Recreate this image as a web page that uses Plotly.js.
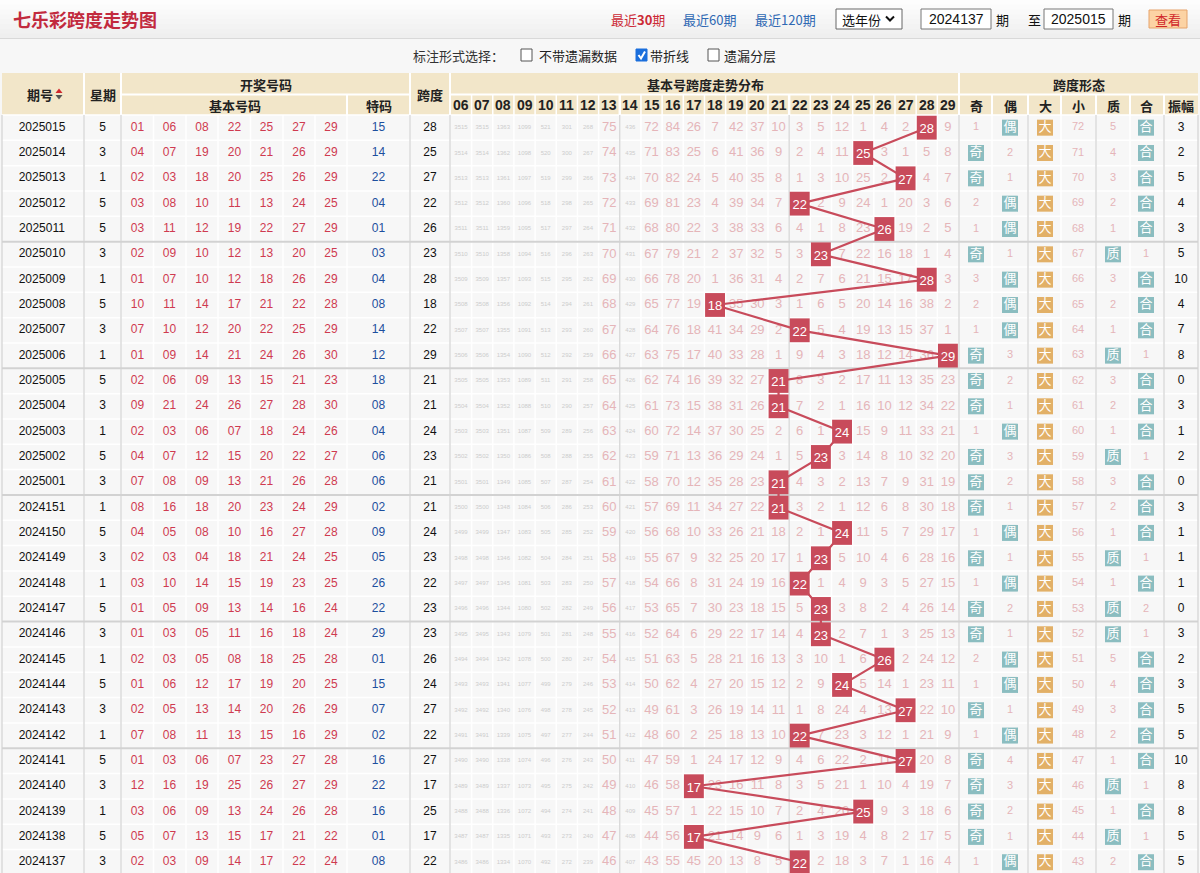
<!DOCTYPE html>
<html><head><meta charset="utf-8">
<script src="https://cdn.plot.ly/plotly-3.0.1.min.js"></script>
<style>html,body{margin:0;padding:0;background:#f7f7f7;overflow:hidden}#chart{width:1200px;height:873px}</style>
</head><body><div id="chart"></div>
<script>
// ---------------- DATA ----------------
const periods = ['2025015','2025014','2025013','2025012','2025011','2025010','2025009','2025008','2025007','2025006','2025005','2025004','2025003','2025002','2025001','2024151','2024150','2024149','2024148','2024147','2024146','2024145','2024144','2024143','2024142','2024141','2024140','2024139','2024138','2024137'];
const weekdays = ['5','3','1','5','5','3','1','5','3','1','5','3','1','5','3','1','5','3','1','5','3','1','5','3','1','5','3','1','5','3'];
const baseNumbers = [
 ['01','06','08','22','25','27','29'],['04','07','19','20','21','26','29'],['02','03','18','20','25','26','29'],['03','08','10','11','13','24','25'],['03','11','12','19','22','27','29'],
 ['02','09','10','12','13','20','25'],['01','07','10','12','18','26','29'],['10','11','14','17','21','22','28'],['07','10','12','20','22','25','29'],['01','09','14','21','24','26','30'],
 ['02','06','09','13','15','21','23'],['09','21','24','26','27','28','30'],['02','03','06','07','18','24','26'],['04','07','12','15','20','22','27'],['07','08','09','13','21','26','28'],
 ['08','16','18','20','23','24','29'],['04','05','08','10','16','27','28'],['02','03','04','18','21','24','25'],['03','10','14','15','19','23','25'],['01','05','09','13','14','16','24'],
 ['01','03','05','11','16','18','24'],['02','03','05','08','18','25','28'],['01','06','12','17','19','20','25'],['02','05','13','14','20','26','29'],['07','08','11','13','15','16','29'],
 ['01','03','06','07','23','27','28'],['12','16','19','25','26','27','29'],['03','06','09','13','24','26','28'],['05','07','13','15','17','21','22'],['02','03','09','14','17','22','24']
];
const specialNumbers = ['15','14','22','04','01','03','04','08','14','12','18','08','04','06','06','02','09','05','26','22','29','01','15','07','02','16','22','16','01','08'];
const spans = [28,25,27,22,26,23,28,18,22,29,21,21,24,23,21,21,24,23,22,23,23,26,24,27,22,27,17,25,17,22];
const spanColumns = ['06','07','08','09','10','11','12','13','14','15','16','17','18','19','20','21','22','23','24','25','26','27','28','29'];
// omission per row for span columns 06..29 (null = hit)
const omission = [
 [3515,3515,1363,1099,521,301,268,75,436,72,84,26,7,42,37,10,3,5,12,1,4,2,null,9],
 [3514,3514,1362,1098,520,300,267,74,435,71,83,25,6,41,36,9,2,4,11,null,3,1,5,8],
 [3513,3513,1361,1097,519,299,266,73,434,70,82,24,5,40,35,8,1,3,10,25,2,null,4,7],
 [3512,3512,1360,1096,518,298,265,72,433,69,81,23,4,39,34,7,null,2,9,24,1,20,3,6],
 [3511,3511,1359,1095,517,297,264,71,432,68,80,22,3,38,33,6,4,1,8,23,null,19,2,5],
 [3510,3510,1358,1094,516,296,263,70,431,67,79,21,2,37,32,5,3,null,7,22,16,18,1,4],
 [3509,3509,1357,1093,515,295,262,69,430,66,78,20,1,36,31,4,2,7,6,21,15,17,null,3],
 [3508,3508,1356,1092,514,294,261,68,429,65,77,19,null,35,30,3,1,6,5,20,14,16,38,2],
 [3507,3507,1355,1091,513,293,260,67,428,64,76,18,41,34,29,2,null,5,4,19,13,15,37,1],
 [3506,3506,1354,1090,512,292,259,66,427,63,75,17,40,33,28,1,9,4,3,18,12,14,36,null],
 [3505,3505,1353,1089,511,291,258,65,426,62,74,16,39,32,27,null,8,3,2,17,11,13,35,23],
 [3504,3504,1352,1088,510,290,257,64,425,61,73,15,38,31,26,null,7,2,1,16,10,12,34,22],
 [3503,3503,1351,1087,509,289,256,63,424,60,72,14,37,30,25,2,6,1,null,15,9,11,33,21],
 [3502,3502,1350,1086,508,288,255,62,423,59,71,13,36,29,24,1,5,null,3,14,8,10,32,20],
 [3501,3501,1349,1085,507,287,254,61,422,58,70,12,35,28,23,null,4,3,2,13,7,9,31,19],
 [3500,3500,1348,1084,506,286,253,60,421,57,69,11,34,27,22,null,3,2,1,12,6,8,30,18],
 [3499,3499,1347,1083,505,285,252,59,420,56,68,10,33,26,21,18,2,1,null,11,5,7,29,17],
 [3498,3498,1346,1082,504,284,251,58,419,55,67,9,32,25,20,17,1,null,5,10,4,6,28,16],
 [3497,3497,1345,1081,503,283,250,57,418,54,66,8,31,24,19,16,null,1,4,9,3,5,27,15],
 [3496,3496,1344,1080,502,282,249,56,417,53,65,7,30,23,18,15,5,null,3,8,2,4,26,14],
 [3495,3495,1343,1079,501,281,248,55,416,52,64,6,29,22,17,14,4,null,2,7,1,3,25,13],
 [3494,3494,1342,1078,500,280,247,54,415,51,63,5,28,21,16,13,3,10,1,6,null,2,24,12],
 [3493,3493,1341,1077,499,279,246,53,414,50,62,4,27,20,15,12,2,9,null,5,14,1,23,11],
 [3492,3492,1340,1076,498,278,245,52,413,49,61,3,26,19,14,11,1,8,24,4,13,null,22,10],
 [3491,3491,1339,1075,497,277,244,51,412,48,60,2,25,18,13,10,null,7,23,3,12,1,21,9],
 [3490,3490,1338,1074,496,276,243,50,411,47,59,1,24,17,12,9,4,6,22,2,11,null,20,8],
 [3489,3489,1337,1073,495,275,242,49,410,46,58,null,23,16,11,8,3,5,21,1,10,4,19,7],
 [3488,3488,1336,1072,494,274,241,48,409,45,57,1,22,15,10,7,2,4,20,null,9,3,18,6],
 [3487,3487,1335,1071,493,273,240,47,408,44,56,null,21,14,9,6,1,3,19,4,8,2,17,5],
 [3486,3486,1334,1070,492,272,239,46,407,43,55,45,20,13,8,5,null,2,18,3,7,1,16,4]
];
// span form omissions (null = hit)
const oddOmission   = [1,null,null,2,1,null,3,2,1,null,null,null,1,null,null,null,1,null,1,null,null,2,1,null,1,null,null,null,null,1];
const evenOmission  = [null,2,1,null,null,1,null,null,null,3,2,1,null,3,2,1,null,1,null,2,1,null,null,1,null,4,3,2,1,null];
const bigOmission   = [null,null,null,null,null,null,null,null,null,null,null,null,null,null,null,null,null,null,null,null,null,null,null,null,null,null,null,null,null,null];
const smallOmission = [72,71,70,69,68,67,66,65,64,63,62,61,60,59,58,57,56,55,54,53,52,51,50,49,48,47,46,45,44,43];
const primeOmission = [5,4,3,2,1,null,3,2,1,null,3,2,1,null,3,2,1,null,1,null,null,5,4,3,2,1,null,1,null,2];
const compositeOmission = [null,null,null,null,null,1,null,null,null,1,null,null,null,1,null,null,null,1,null,2,1,null,null,null,null,null,1,null,1,null];
const amplitude = [3,2,5,4,3,5,10,4,7,8,0,3,1,2,0,3,1,1,1,0,3,2,3,5,5,10,8,8,5,5];
const formLabels = ['奇','偶','大','小','质','合','振幅'];

// ---------------- GEOMETRY ----------------
const W = 1200, H = 873, TOP = 115, RH = 25.33, X06 = 461, CW = 21.17;
const CJK = '"Noto Sans CJK SC", sans-serif';
const NUM = '"Liberation Sans", Arial, sans-serif';
const colX = {period:42, week:102.5, base:[137.5,169.5,202,234.5,266.5,299,331], special:378.5, span:430};
const formX = [976,1010,1045,1078,1113,1146,1181];
const colNums = spanColumns.map(Number);
const trendPx = n => X06 + (n - 6) * CW;

const shapes = [], annotations = [];
function rect(x0,y0,x1,y1,fill,line,layer){shapes.push({type:'rect',xref:'x',yref:'y',x0,y0,x1,y1,fillcolor:fill,line:line||{width:0},layer:layer||'below'});}
function seg(x0,y0,x1,y1,color,w){shapes.push({type:'line',xref:'x',yref:'y',x0,y0,x1,y1,line:{color:color,width:w},layer:'below'});}
function ann(text,x,y,size,color,opts){annotations.push(Object.assign({text,x,y,xref:'x',yref:'y',showarrow:false,xanchor:'center',yanchor:'middle',font:{family:CJK,size,color}},opts||{}));}

// top bar
const bands=['#fdfdfd','#fbfbfb','#f9f9f9','#f7f7f7','#f5f5f5','#f3f3f3','#f1f1f1','#efefef'];
bands.forEach((c,i)=>rect(0,i*4.8,W,(i+1)*4.8+0.5,c));
seg(0,38.5,W,38.5,'#d9d9d9',1);
ann('<b>七乐彩跨度走势图</b>',11,19,18,'#c22a3e',{xanchor:'left'});
ann('最近<b>30</b>期',638,19,13,'#cc2a36');
ann('最近60期',709,19,13,'#2e68b3');
ann('最近120期',785,19,13,'#2e68b3');
rect(836,9,902,29,'#ffffff',{color:'#666',width:1});
ann('选年份',861,19,13,'#111');
shapes.push({type:'path',xref:'x',yref:'y',path:'M 886 16.5 L 890 20.5 L 894 16.5',line:{color:'#111',width:2},layer:'above'});
rect(921,9,991,29,'#ffffff',{color:'#777',width:1});
ann('2024137',956,19,13,'#111',{font:{family:NUM,size:14,color:'#111'}});
ann('期',1002,19,13,'#111');
ann('至',1034,19,13,'#111');
rect(1044,9,1113,29,'#ffffff',{color:'#777',width:1});
ann('2025015',1078.5,19,13,'#111',{font:{family:NUM,size:14,color:'#111'}});
ann('期',1124,19,13,'#111');
rect(1149,10,1187,28,'#fcd3a4',{color:'#e6a36b',width:1});
ann('查看',1168,19,13,'#d0262a');

// options row
ann('标注形式选择：',458,55,13,'#333');
rect(521,49,532,61,'#ffffff',{color:'#555',width:1});
ann('不带遗漏数据',578,55,13,'#222');
rect(636,49,647,61,'#1b6fdc',{color:'#1b6fdc',width:1});
shapes.push({type:'path',xref:'x',yref:'y',path:'M 638.5 55 L 641 58.5 L 645 51.5',line:{color:'#ffffff',width:2},layer:'above'});
ann('带折线',669,55,13,'#222');
rect(708,49,719,61,'#ffffff',{color:'#555',width:1});
ann('遗漏分层',750,55,13,'#222');

// header table
rect(2,73,1198,115,'#f2e6c9');
const WHITE='#ffffff';
[84,121,410,450,959].forEach(x=>seg(x,73,x,115,WHITE,2));
seg(121,94.5,410,94.5,WHITE,2); seg(450,94.5,1198,94.5,WHITE,2);
seg(347,94.5,347,115,WHITE,2);
for(let k=1;k<24;k++){const x=trendPx(6+k-0.5);seg(x,94.5,x,115,WHITE,(k===8||k===16)?2.5:1.5);}
[992,1028,1061,1096,1130,1164].forEach(x=>seg(x,94.5,x,115,WHITE,2));
seg(2,115,1198,115,WHITE,1.5);
const HC='#222';
ann('<b>期号</b>',40,94,13,HC);
shapes.push({type:'path',xref:'x',yref:'y',path:'M 55.5 93 L 62.5 93 L 59 88.5 Z',fillcolor:'#d0282e',line:{width:0},layer:'above'});
shapes.push({type:'path',xref:'x',yref:'y',path:'M 55.5 95 L 62.5 95 L 59 99.5 Z',fillcolor:'#555',line:{width:0},layer:'above'});
ann('<b>星期</b>',103,94,13,HC);
ann('<b>开奖号码</b>',266,84,13,HC);
ann('<b>基本号码</b>',235,105,13,HC);
ann('<b>特码</b>',379,105,13,HC);
ann('<b>跨度</b>',430,94,13,HC);
ann('<b>基本号跨度走势分布</b>',705,84,13,HC);
ann('<b>跨度形态</b>',1079,84,13,HC);
spanColumns.forEach(c=>ann('<b>'+c+'</b>',trendPx(Number(c)),105,14,HC,{font:{family:NUM,size:14,color:HC}}));
formLabels.forEach((l,i)=>ann('<b>'+l+'</b>',formX[i],105,13,HC));

// body grid
const rowY = i => TOP + i*RH;
const bodyV = [84,121,153.5,186,218,250.5,283,315,347,410,450,959,992,1028,1061,1096,1130,1164];
for(let k=1;k<24;k++) bodyV.push(trendPx(6+k-0.5));
bodyV.forEach(x=>seg(x,TOP,x,H,WHITE,1.5));
for(let i=1;i<=30;i++) seg(2,rowY(i),1198,rowY(i),WHITE,1.5);
const GRAY='#d2d2d2';
[2,84,121,410,450,trendPx(13.5),trendPx(21.5),959,1028,1096,1164,1198].forEach(x=>seg(x,TOP,x,H,GRAY,1.2));
for(let i=5;i<30;i+=5) seg(2,rowY(i),1198,rowY(i),GRAY,2);

// ---------------- TRACES ----------------
const traces = [];
function textTrace(xs,ys,texts,size,color,family,xaxis){
  traces.push({type:'scatter',mode:'text',x:xs,y:ys,text:texts,xaxis:xaxis||'x',yaxis:'y2',
    textposition:'middle center',textfont:{family:family||NUM,size,color},hoverinfo:'skip',cliponaxis:false,showlegend:false});
}
const rep = v => periods.map(()=>v);
textTrace(rep(colX.period),periods,periods,12,'#111');
textTrace(rep(colX.week),periods,weekdays,12,'#111');
{const xs=[],ys=[],ts=[];baseNumbers.forEach((row,r)=>row.forEach((n,c)=>{xs.push(colX.base[c]);ys.push(periods[r]);ts.push(n);}));textTrace(xs,ys,ts,12,'#cf3a50');}
textTrace(rep(colX.special),periods,specialNumbers,12,'#1d4f9e');
textTrace(rep(colX.span),periods,spans.map(String),12,'#111');

// omissions in trend area
{const ax=[],ay=[],at=[],bx=[],by=[],bt=[];
 omission.forEach((row,r)=>row.forEach((v,c)=>{if(v===null)return;
   if(v>=100){bx.push(colNums[c]);by.push(periods[r]);bt.push(String(v));}
   else{ax.push(colNums[c]);ay.push(periods[r]);at.push(String(v));}}));
 textTrace(ax,ay,at,13,'#e5b5b9',NUM,'x2');
 textTrace(bx,by,bt,6,'#cccccc',NUM,'x2');}

// trend line
traces.push({type:'scatter',mode:'lines',x:spans,y:periods,xaxis:'x2',yaxis:'y2',line:{color:'#c84b5b',width:2.2},hoverinfo:'skip',showlegend:false,cliponaxis:false});
// boxes (shapes positioned from data on the trend axes) with their labels
spans.forEach((s,r)=>{
  shapes.push({type:'rect',xref:'x2',yref:'y2',x0:s-0.47,x1:s+0.47,y0:r-0.47,y1:r+0.47,fillcolor:'#c84b5b',line:{width:0},layer:'above',
    label:{text:String(s),textposition:'middle center',font:{family:NUM,size:13,color:'#ffffff'}}});
});

// span form section
const formSeries = [oddOmission,evenOmission,bigOmission,smallOmission,primeOmission,compositeOmission];
const badgeColor = ['#8bbdc0','#8bbdc0','#e2b067','#e2b067','#8bbdc0','#8bbdc0'];
{const px=[],py=[],pt=[];
 formSeries.forEach((ser,i)=>{
   const bx=[],by=[],bt=[];
   ser.forEach((v,r)=>{ if(v===null){bx.push(formX[i]);by.push(periods[r]);bt.push(formLabels[i]);} else {px.push(formX[i]);py.push(periods[r]);pt.push(String(v));}});
   if(bx.length) traces.push({type:'scatter',mode:'markers+text',x:bx,y:by,text:bt,xaxis:'x',yaxis:'y2',
     marker:{symbol:'square',size:16,color:badgeColor[i],line:{width:0}},textposition:'middle center',
     textfont:{family:CJK,size:13,color:'#ffffff'},hoverinfo:'skip',showlegend:false,cliponaxis:false});
 });
 textTrace(px,py,pt,11,'#e5b5b9');}
textTrace(rep(formX[6]),periods,amplitude.map(String),12,'#111');

// dummy on base subplot
traces.unshift({type:'scatter',mode:'markers',x:[-10],y:[-10],xaxis:'x',yaxis:'y',marker:{size:1,opacity:0},hoverinfo:'skip',showlegend:false});

const layout = {
  width:W,height:H,margin:{l:0,r:0,t:0,b:0,pad:0},
  paper_bgcolor:'#f7f7f7',plot_bgcolor:'rgba(0,0,0,0)',showlegend:false,
  xaxis:{range:[0,W],visible:false,fixedrange:true,showgrid:false,zeroline:false},
  yaxis:{range:[H,0],visible:false,fixedrange:true,showgrid:false,zeroline:false},
  xaxis2:{overlaying:'x',anchor:'y2',range:[6 - X06/CW, 6 + (W - X06)/CW],visible:false,fixedrange:true,showgrid:false,zeroline:false},
  yaxis2:{overlaying:'y',anchor:'x',type:'category',categoryorder:'array',categoryarray:periods,
          range:[(H-TOP)/RH - 0.5, -TOP/RH - 0.5],visible:false,fixedrange:true,showgrid:false,zeroline:false},
  shapes,annotations
};
Plotly.newPlot('chart',traces,layout,{displayModeBar:false,staticPlot:true});
</script>
</body></html>
